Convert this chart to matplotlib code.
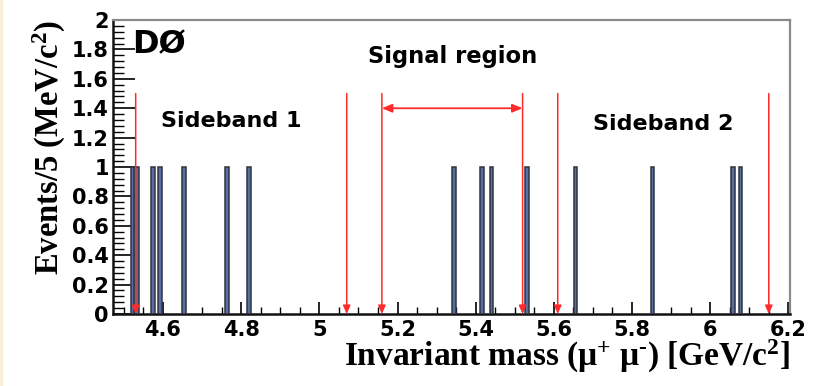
import matplotlib
matplotlib.use("Agg")
import matplotlib.pyplot as plt
from matplotlib.ticker import MultipleLocator
from matplotlib.patches import Rectangle

plt.rcParams["mathtext.fontset"] = "custom"
plt.rcParams["mathtext.rm"] = "Liberation Serif:bold"
plt.rcParams["mathtext.it"] = "Liberation Serif:bold"
plt.rcParams["mathtext.bf"] = "Liberation Serif:bold"

# Data
event_masses = [4.522, 4.533, 4.574, 4.592, 4.654, 4.764, 4.820,
                5.344, 5.416, 5.441, 5.531, 5.656, 5.853, 6.058, 6.078]
event_counts = [1] * len(event_masses)
bar_width = 0.009
region_edges = [4.53, 5.07, 5.16, 5.52, 5.61, 6.15]
signal_lo, signal_hi = 5.16, 5.52
region_labels = ["Sideband 1", "Signal region", "Sideband 2"]
x_ticks = [4.6, 4.8, 5.0, 5.2, 5.4, 5.6, 5.8, 6.0, 6.2]
x_ticklabels = ["4.6", "4.8", "5", "5.2", "5.4", "5.6", "5.8", "6", "6.2"]
y_ticks = [0, 0.2, 0.4, 0.6, 0.8, 1, 1.2, 1.4, 1.6, 1.8, 2]
y_ticklabels = ["0", "0.2", "0.4", "0.6", "0.8", "1", "1.2", "1.4", "1.6", "1.8", "2"]

fig = plt.figure(figsize=(8.16, 3.86), dpi=100)
fig.patches.append(Rectangle((0, 0), 0.003, 1, transform=fig.transFigure,
                             color="#f7efd8", zorder=0))
ax = fig.add_axes([0.1385, 0.1865, 0.968 - 0.1385, 0.948 - 0.1865])

ax.bar(event_masses, event_counts, width=bar_width, color="#5a6ea6",
       edgecolor="#30343e", linewidth=1.1, zorder=3)

red = "#ff2a2a"
for xe in region_edges:
    ax.annotate("", xy=(xe, 0.0), xytext=(xe, 1.5),
                arrowprops=dict(arrowstyle="-|>,head_length=0.5,head_width=0.22",
                                color=red, lw=1.1, shrinkA=0, shrinkB=0),
                zorder=4)
ax.annotate("", xy=(signal_lo, 1.4), xytext=(signal_hi, 1.4),
            arrowprops=dict(arrowstyle="<|-|>,head_length=0.6,head_width=0.25",
                            color=red, lw=1.3, shrinkA=0, shrinkB=0), zorder=4)

ax.set_xlim(4.472, 6.204)
ax.set_ylim(0, 2)

sans = "DejaVu Sans"
serif = "Liberation Serif"
ax.text(4.775, 1.31, region_labels[0], ha="center", va="center",
        fontsize=16, fontweight="bold", family=sans)
ax.text(5.34, 1.75, region_labels[1], ha="center", va="center",
        fontsize=16.3, fontweight="bold", family=sans)
ax.text(5.88, 1.29, region_labels[2], ha="center", va="center",
        fontsize=16, fontweight="bold", family=sans)
ax.text(4.522, 1.83, "DØ", ha="left", va="center",
        fontsize=23, fontweight="bold", family=sans)

ax.set_xticks(x_ticks)
ax.set_xticklabels(x_ticklabels)
ax.set_yticks(y_ticks)
ax.set_yticklabels(y_ticklabels)
ax.xaxis.set_minor_locator(MultipleLocator(0.05))
ax.yaxis.set_minor_locator(MultipleLocator(0.04))
ax.tick_params(axis="x", which="major", direction="in", length=9, width=1.2,
               labelsize=15, pad=4, top=False)
ax.tick_params(axis="x", which="minor", direction="in", length=5, width=1.0, top=False)
ax.tick_params(axis="y", which="major", direction="in", length=16, width=1.2,
               labelsize=15, pad=3, right=False)
ax.tick_params(axis="y", which="minor", direction="in", length=8, width=1.0, right=False)
for lab in ax.get_xticklabels() + ax.get_yticklabels():
    lab.set_fontfamily(sans)
    lab.set_fontweight("bold")

for s in ["left", "bottom"]:
    ax.spines[s].set_linewidth(1.8)
    ax.spines[s].set_color("#111111")
for s in ["top", "right"]:
    ax.spines[s].set_linewidth(1.6)
    ax.spines[s].set_color("#8a8a8a")

ax.set_xlabel(r"Invariant mass (μ$^{+}$ μ$^{\text{-}}$) [GeV/c$^{2}$]", family=serif,
              fontweight="bold", fontsize=24, loc="right", labelpad=-1)
ax.set_ylabel("Events/5 (MeV/c$^{2}$)", family=serif, fontweight="bold",
              fontsize=23.5, loc="top", labelpad=3)

fig.savefig("out.png", dpi=100)
